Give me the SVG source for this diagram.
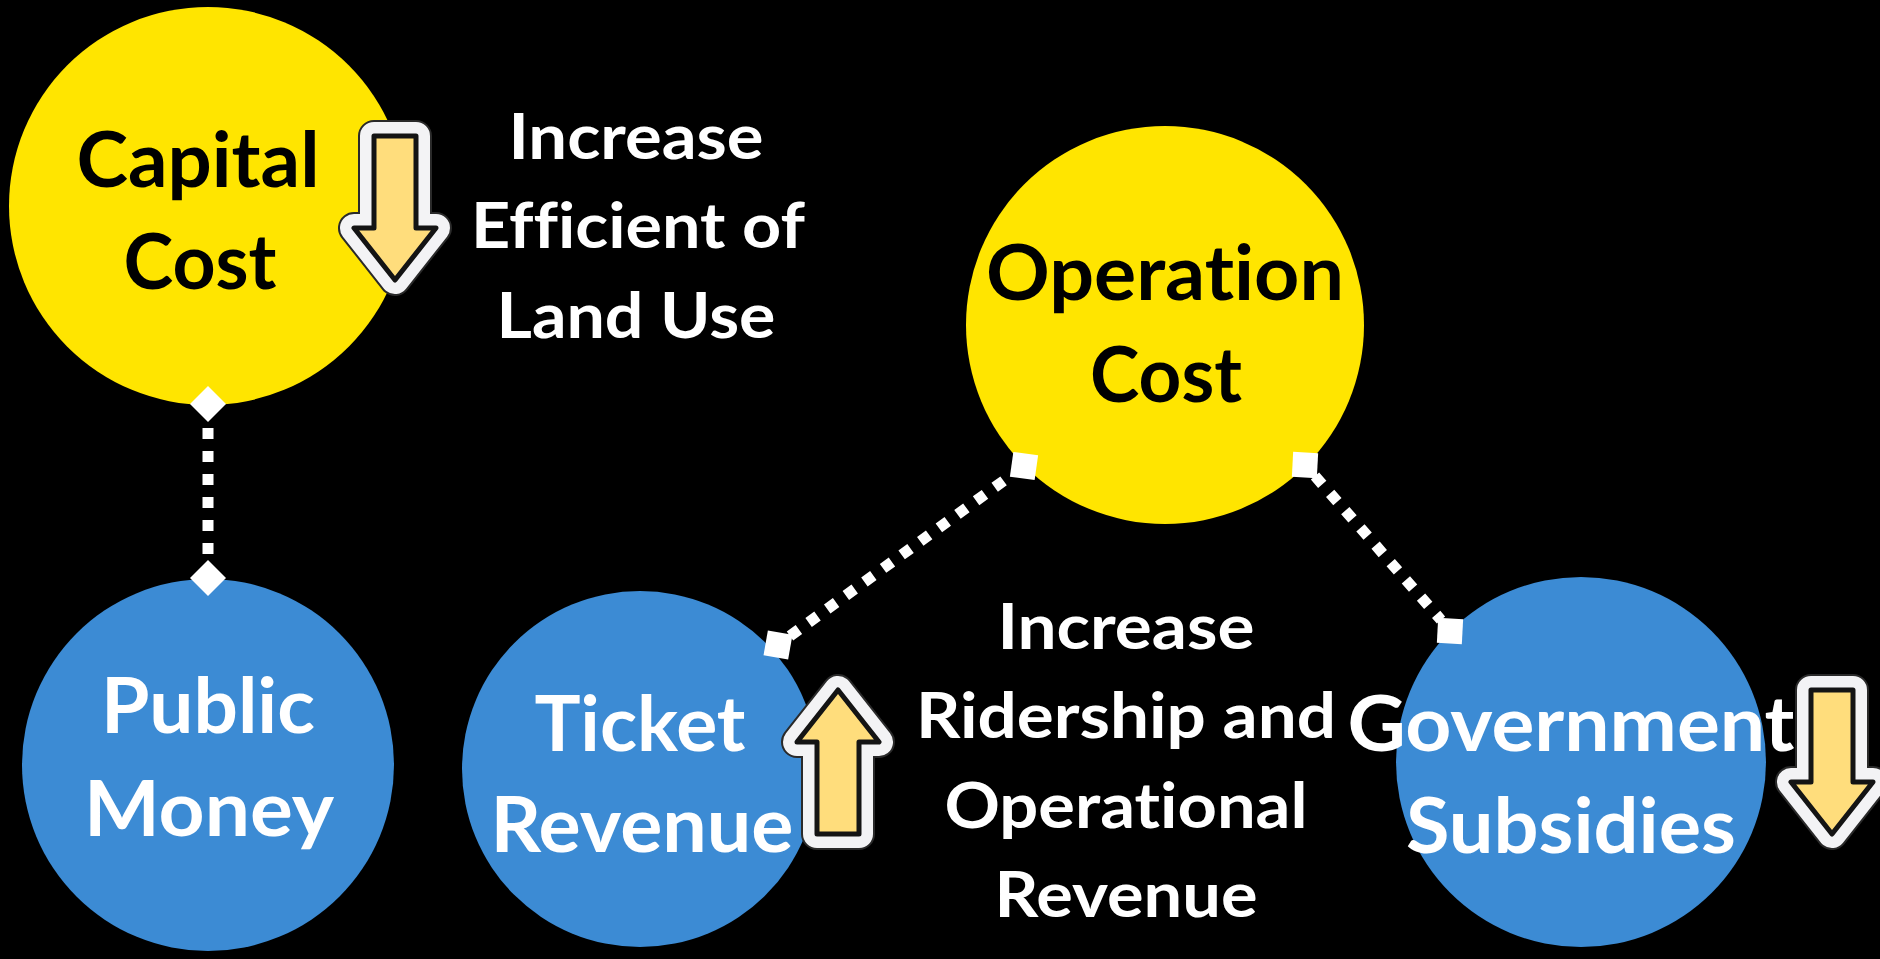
<svg xmlns="http://www.w3.org/2000/svg" xmlns:xlink="http://www.w3.org/1999/xlink" width="1880" height="959" viewBox="0 0 1880 959">
  <style>
    .t { font-family: Lato, "Open Sans", "Liberation Sans", sans-serif; font-weight: 700; text-anchor: middle; font-variant-ligatures: none; font-feature-settings: "liga" 0, "clig" 0, "dlig" 0; }
    .node-text { font-size: 77px; }
    .dark { fill: #000000; }
    .light { fill: #ffffff; }
    .label { font-size: 63px; fill: #ffffff; }
    .cost { fill: #FFE500; }
    .money { fill: #3C8BD4; }
    .dots { stroke: #ffffff; fill: none; stroke-width: 11; stroke-dasharray: 11 12; }
    .end { fill: #ffffff; }
  </style>
  <defs>
    <!-- outlined "trend" arrow, pointing down, centred on the origin -->
    <path id="arrowShape" d="M -21,-72 H 21 V 20 H 41 L 0,72 L -41,20 H -21 Z"/>
    <g id="arrowDown">
      <use xlink:href="#arrowShape" href="#arrowShape" fill="none" stroke="#2a2a2a" stroke-width="32" stroke-linejoin="round"/>
      <use xlink:href="#arrowShape" href="#arrowShape" fill="none" stroke="#F3F3F5" stroke-width="28" stroke-linejoin="round"/>
      <use xlink:href="#arrowShape" href="#arrowShape" fill="#FFDD7C" stroke="#141414" stroke-width="5" stroke-linejoin="round"/>
    </g>
  </defs>

  <rect x="0" y="0" width="1880" height="959" fill="#000000"/>

  <!-- nodes -->
  <g id="capital-cost">
    <circle class="cost" cx="208" cy="206" r="199"/>
    <text class="t node-text dark" x="198" y="187" textLength="243" lengthAdjust="spacingAndGlyphs">Capital</text>
    <text class="t node-text dark" x="200" y="289" textLength="153" lengthAdjust="spacingAndGlyphs">Cost</text>
  </g>

  <g id="operation-cost">
    <circle class="cost" cx="1165" cy="325" r="199"/>
    <text class="t node-text dark" x="1165" y="300" textLength="358" lengthAdjust="spacingAndGlyphs">Operation</text>
    <text class="t node-text dark" x="1166" y="402" textLength="152" lengthAdjust="spacingAndGlyphs">Cost</text>
  </g>

  <g id="public-money">
    <circle class="money" cx="208" cy="765" r="186"/>
    <text class="t node-text light" x="208" y="733" textLength="214" lengthAdjust="spacingAndGlyphs">Public</text>
    <text class="t node-text light" x="209" y="836" textLength="250" lengthAdjust="spacingAndGlyphs">Money</text>
  </g>

  <g id="ticket-revenue">
    <circle class="money" cx="640" cy="769" r="178"/>
    <text class="t node-text light" x="640" y="751" textLength="211" lengthAdjust="spacingAndGlyphs">Ticket</text>
    <text class="t node-text light" x="642" y="852" textLength="303" lengthAdjust="spacingAndGlyphs">Revenue</text>
  </g>

  <g id="government-subsidies">
    <circle class="money" cx="1581" cy="762" r="185"/>
    <text class="t node-text light" x="1571" y="751" textLength="447" lengthAdjust="spacingAndGlyphs">Government</text>
    <text class="t node-text light" x="1571" y="853" textLength="330" lengthAdjust="spacingAndGlyphs">Subsidies</text>
  </g>

  <!-- free-standing labels -->
  <g id="label-land-use">
    <text class="t label" x="636" y="159" textLength="255" lengthAdjust="spacingAndGlyphs">Increase</text>
    <text class="t label" x="638" y="248" textLength="334" lengthAdjust="spacingAndGlyphs">Efficient of</text>
    <text class="t label" x="636" y="338" textLength="279" lengthAdjust="spacingAndGlyphs">Land Use</text>
  </g>

  <g id="label-ridership">
    <text class="t label" x="1126" y="649" textLength="257" lengthAdjust="spacingAndGlyphs">Increase</text>
    <text class="t label" x="1126" y="738" textLength="420" lengthAdjust="spacingAndGlyphs">Ridership and</text>
    <text class="t label" x="1126" y="828" textLength="363" lengthAdjust="spacingAndGlyphs">Operational</text>
    <text class="t label" x="1126" y="917" textLength="263" lengthAdjust="spacingAndGlyphs">Revenue</text>
  </g>

  <!-- trend icons -->
  <g id="trend-icons">
    <use xlink:href="#arrowDown" href="#arrowDown" transform="translate(395,208)"/>
    <use xlink:href="#arrowDown" href="#arrowDown" transform="translate(838,762) rotate(180)"/>
    <use xlink:href="#arrowDown" href="#arrowDown" transform="translate(1832,762)"/>
  </g>

  <!-- connectors -->
  <g id="connectors">
    <line class="dots" x1="208" y1="428" x2="208" y2="561" stroke-width="12"/>
    <polygon class="end" points="208,386 226,404 208,422 190,404"/>
    <polygon class="end" points="208,560 226,578 208,596 190,578"/>

    <line class="dots" x1="790" y1="636" x2="1013" y2="474"/>
    <rect class="end" x="-12.5" y="-12.5" width="25" height="25" transform="translate(778,645) rotate(10)"/>
    <rect class="end" x="-12.5" y="-12.5" width="25" height="25" transform="translate(1024,466) rotate(8)"/>

    <line class="dots" x1="1315" y1="476" x2="1441" y2="620"/>
    <rect class="end" x="-12.5" y="-12.5" width="25" height="25" transform="translate(1305,465) rotate(3)"/>
    <rect class="end" x="-12.5" y="-12.5" width="25" height="25" transform="translate(1450,631) rotate(3)"/>
  </g>
</svg>
